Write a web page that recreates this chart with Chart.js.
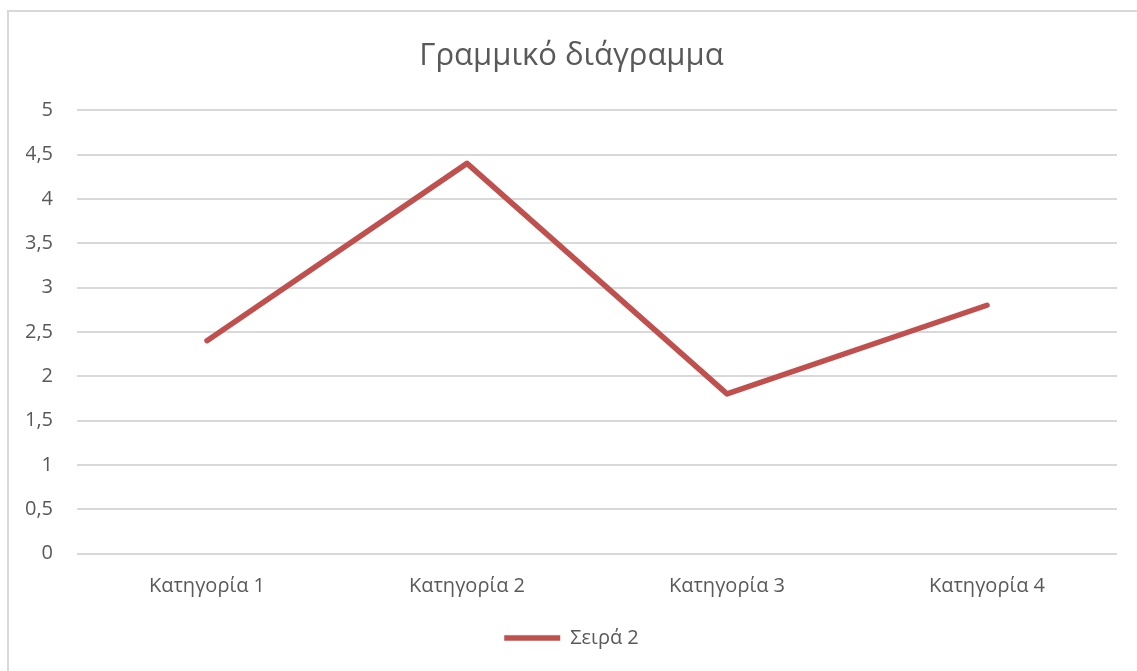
<!DOCTYPE html>
<html>
<head>
<meta charset="utf-8">
<script src="https://cdn.jsdelivr.net/npm/chart.js@4/dist/chart.umd.min.js"></script>
<style>
  html, body { margin: 0; padding: 0; background: #fff; overflow: hidden; }
  #wrap { position: relative; width: 1137px; height: 671px; }
  #frame {
    position: absolute; left: 7px; top: 10px; width: 1200px; height: 700px;
    border: 2px solid #d9d9d9; box-sizing: border-box;
  }
  #line-chart { position: absolute; left: 0; top: 0; }
</style>
</head>
<body>
<div id="wrap">
  <div id="frame"></div>
  <canvas id="line-chart" width="1137" height="671"></canvas>
</div>
<script>
const categories = ["Κατηγορία 1", "Κατηγορία 2", "Κατηγορία 3", "Κατηγορία 4"]
const series2 = [2.4, 4.4, 1.8, 2.8]
const yTicks = [0, 0.5, 1, 1.5, 2, 2.5, 3, 3.5, 4, 4.5, 5]

const textColor = "#595959"
const gridColor = "#d9d9d9"
const lineColor = "#c0504d"
const fontFamily = "'Open Sans', 'Noto Sans', sans-serif"

const ctx = document.getElementById("line-chart")

const lineChart = new Chart(ctx, {
  type: "line",
  data: {
    labels: categories,
    datasets: [
      {
        label: "Σειρά 2",
        data: series2,
        borderColor: lineColor,
        backgroundColor: lineColor,
        borderWidth: 5.5,
        borderCapStyle: "round",
        borderJoinStyle: "round",
        pointRadius: 0,
        pointHoverRadius: 0,
        pointStyle: "line",
        tension: 0,
      },
    ],
  },
  options: {
    responsive: false,
    animation: false,
    layout: {
      padding: { left: 26, right: 20, top: 20, bottom: 13 },
    },
    plugins: {
      title: {
        display: true,
        text: "Γραμμικό διάγραμμα",
        color: textColor,
        font: { family: fontFamily, size: 31, weight: "normal" },
        padding: { top: 18, bottom: 35 },
      },
      legend: {
        position: "bottom",
        labels: {
          color: textColor,
          font: { family: fontFamily, size: 20 },
          usePointStyle: true,
          pointStyleWidth: 56,
          padding: 16.5,
        },
      },
      tooltip: { enabled: false },
    },
    scales: {
      x: {
        offset: true,
        grid: { display: false },
        border: { display: false },
        ticks: {
          color: textColor,
          font: { family: fontFamily, size: 20 },
          padding: 13,
        },
      },
      y: {
        min: 0,
        max: 5,
        afterFit: (scale) => { scale.width = 51 },
        grid: { color: gridColor, lineWidth: 2, drawTicks: false },
        border: { display: false },
        ticks: {
          stepSize: 0.5,
          color: textColor,
          font: { family: fontFamily, size: 20 },
          padding: 24,
          callback: (v) => (yTicks.includes(v) ? String(v).replace(".", ",") : ""),
        },
      },
    },
  },
})
</script>
</body>
</html>
